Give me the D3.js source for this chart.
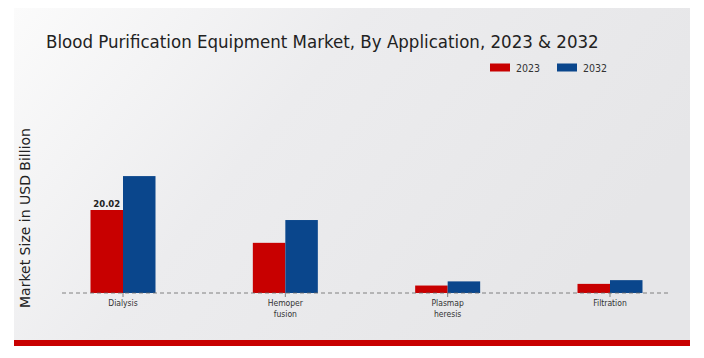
<!DOCTYPE html>
<html><head><meta charset="utf-8">
<script src="https://cdn.jsdelivr.net/npm/d3@7"></script>
<style>body{margin:0;background:#fff}svg{display:block}</style>
</head><body>
<script>
const categories = ["Dialysis", "Hemoper\nfusion", "Plasmap\nheresis", "Filtration"];
const series = ["2023", "2032"];
const values2023 = [20.02, 12.1, 1.8, 2.2];
const values2032 = [28.2, 17.6, 2.8, 3.1];
const colors = ["#c80000", "#0a468c"];
const title = "Blood Purification Equipment Market, By Application, 2023 & 2032";
const yLabel = "Market Size in USD Billion";

const W = 704, H = 358;
const svg = d3.select("body").append("svg").attr("width", W).attr("height", H);
const defs = svg.append("defs");
const g = defs.append("linearGradient").attr("id", "bg").attr("x1", "0").attr("y1", "0").attr("x2", "1").attr("y2", "0.4");
g.append("stop").attr("offset", "0").attr("stop-color", "#fbfbfb");
g.append("stop").attr("offset", "0.45").attr("stop-color", "#ececee");
g.append("stop").attr("offset", "1").attr("stop-color", "#e6e6e8");
svg.append("rect").attr("x", 14).attr("y", 8).attr("width", 676).attr("height", 333).attr("fill", "url(#bg)");
svg.append("rect").attr("x", 14).attr("y", 340).attr("width", 676).attr("height", 6).attr("fill", "#c80000");

const baseY = 293;
const y = d3.scaleLinear().domain([0, 20.02]).range([baseY, 210]);
const x = d3.scalePoint().domain(categories).range([123, 610]);
const bw = 32.5;
const xs = d3.scaleBand().domain(series).range([-bw, bw]);

const data = [values2023, values2032];
categories.forEach((c, i) => {
  series.forEach((s, j) => {
    const v = data[j][i];
    svg.append("rect")
      .attr("x", x(c) + xs(s)).attr("width", xs.bandwidth())
      .attr("y", y(v)).attr("height", baseY - y(v))
      .attr("fill", colors[j]);
  });
});

// baseline
svg.append("line").attr("x1", 62).attr("x2", 668).attr("y1", baseY).attr("y2", baseY)
  .attr("stroke", "#666").attr("stroke-width", 0.8).attr("stroke-dasharray", "4,3");

// value label
svg.append("text").attr("x", x(categories[0]) + xs("2023") + bw / 2).attr("y", y(values2023[0]) - 3)
  .attr("text-anchor", "middle").attr("font-family", "DejaVu Sans").attr("font-weight", "bold")
  .attr("font-size", 8.5).attr("fill", "#222").text(values2023[0].toFixed(2));

// category labels
categories.forEach(c => {
  const t = svg.append("text").attr("x", x(c)).attr("y", 306).attr("text-anchor", "middle")
    .attr("font-family", "DejaVu Sans Condensed").attr("font-size", 8.5).attr("fill", "#333");
  c.split("\n").forEach((line, k) => {
    t.append("tspan").attr("x", x(c)).attr("dy", k === 0 ? 0 : 11).text(line);
  });
  svg.append("line").attr("x1", x(c)).attr("x2", x(c)).attr("y1", baseY).attr("y2", baseY + 4).attr("stroke", "#666").attr("stroke-width", 0.8);
});

// title
svg.append("text").attr("x", 46).attr("y", 48).attr("font-family", "DejaVu Sans Condensed")
  .attr("font-size", 18.5).attr("fill", "#222").text(title);

// legend
series.forEach((s, j) => {
  const lx = 490 + j * 67;
  svg.append("rect").attr("x", lx).attr("y", 63.5).attr("width", 20).attr("height", 8).attr("fill", colors[j]);
  svg.append("text").attr("x", lx + 26).attr("y", 71.5).attr("font-family", "DejaVu Sans Condensed")
    .attr("font-size", 10.5).attr("fill", "#333").text(s);
});

// y label
svg.append("text").attr("transform", "translate(30,218) rotate(-90)").attr("text-anchor", "middle")
  .attr("font-family", "DejaVu Sans").attr("font-size", 14).attr("fill", "#222").text(yLabel);
</script>
</body></html>
